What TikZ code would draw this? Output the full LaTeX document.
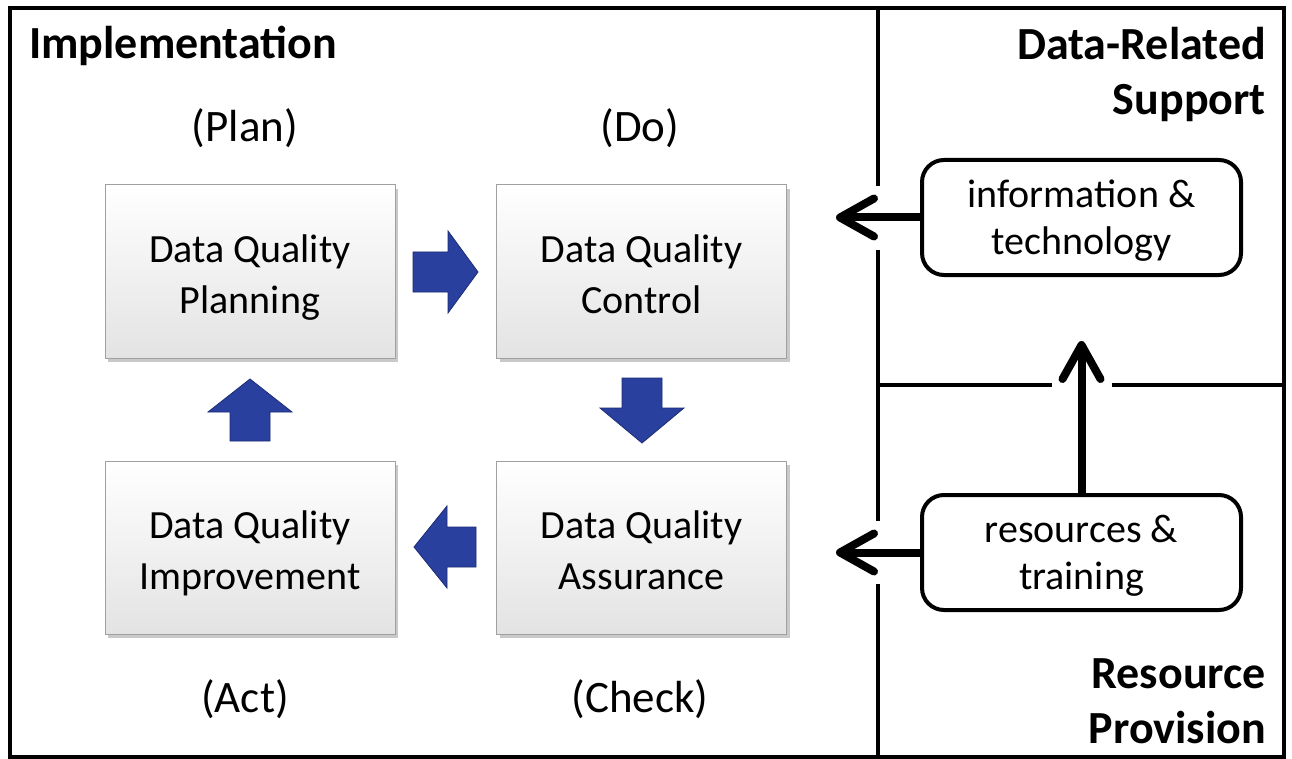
\documentclass[tikz,border=0pt]{standalone}
\usepackage{fontspec}
\setmainfont{Carlito}
\usetikzlibrary{shadows,arrows.meta}
\definecolor{bluefill}{RGB}{42,64,158}
\definecolor{blueedge}{RGB}{28,44,118}
\definecolor{boxedge}{RGB}{160,160,160}
\newcommand{\qstrut}{\rule[-9pt]{0pt}{50pt}}
\newcommand{\rstrut}{\rule[-9pt]{0pt}{45pt}}
\tikzset{
  qbox/.style={draw=boxedge, line width=1pt, top color=white, bottom color=gray!22,
    minimum width=290pt, minimum height=173pt, align=center,
    font=\fontsize{40}{49}\selectfont,
    drop shadow={shadow xshift=3pt, shadow yshift=-4pt, fill=gray!70, opacity=0.6}},
  rbox/.style={draw=black, line width=4pt, rounded corners=22pt, fill=white,
    minimum width=319pt, minimum height=115pt, align=center,
    font=\fontsize{40}{47}\selectfont},
  blockarrow/.style={fill=bluefill, draw=blueedge, line width=0.8pt, line join=miter},
  frameline/.style={line width=4pt, line cap=rect},
  heading/.style={font=\fontsize{46}{55}\selectfont\bfseries, inner sep=0pt},
  phase/.style={font=\fontsize{45}{50}\selectfont, inner sep=0pt},
  bigarrow/.style={line width=8pt, -{Straight Barb[length=34pt, width=38pt, round, line width=8pt]}}
}
\begin{document}
\begin{tikzpicture}[x=1pt, y=-1pt]
\useasboundingbox (0,0) rectangle (1292,759);
\fill[white] (0,0) rectangle (1292,759);

% frame
\draw[frameline] (10,8) -- (1284,8) -- (1284,757) -- (10,757) -- cycle;
\draw[frameline, line cap=butt] (878,8) -- (878,186);
\draw[frameline, line cap=butt] (878,250) -- (878,521);
\draw[frameline, line cap=butt] (878,584) -- (878,757);
\draw[frameline, line cap=butt] (878,385) -- (1052,385);
\draw[frameline, line cap=butt] (1112,385) -- (1284,385);

% headings
\node[heading, anchor=base west] (impl) at (29,59) {Implementation};
\node[heading, anchor=north east, align=right] (drs) at (1266,27) {Data-Related\\Support};
\node[heading, anchor=south east, align=right] (rp) at (1266,744) {Resource\\Provision};

% phase labels
\node[phase] (plan) at (245,128) {(Plan)};
\node[phase] (do) at (640,128) {(Do)};
\node[phase] (act) at (245,699) {(Act)};
\node[phase] (check) at (640,699) {(Check)};

% quality boxes
\node[qbox] (dqp) at (250,271.5) {\qstrut Data Quality\\Planning\qstrut};
\node[qbox] (dqc) at (641.5,271.5) {\qstrut Data Quality\\Control\qstrut};
\node[qbox] (dqi) at (250,547.5) {\qstrut Data Quality\\Improvement\qstrut};
\node[qbox] (dqa) at (641.5,547.5) {\qstrut Data Quality\\Assurance\qstrut};

% block arrows
\filldraw[blockarrow] (413,252) -- (448,252) -- (448,231) -- (478,272) -- (448,313) -- (448,292) -- (413,292) -- cycle;
\filldraw[blockarrow] (622,378) -- (662,378) -- (662,408) -- (684,408) -- (642,443) -- (600,408) -- (622,408) -- cycle;
\filldraw[blockarrow] (270,441) -- (230,441) -- (230,412) -- (208,412) -- (250,379) -- (292,412) -- (270,412) -- cycle;
\filldraw[blockarrow] (476,527) -- (447,527) -- (447,506) -- (414,547) -- (447,588) -- (447,567) -- (476,567) -- cycle;

% support boxes
\node[rbox] (info) at (1081.5,217.5) {\rstrut information \&\\technology\rstrut};
\node[rbox] (res) at (1081.5,552.5) {\rstrut resources \&\\training\rstrut};

\coordinate (infoend) at (836,217.5);
\coordinate (resend) at (836,552.5);
\coordinate (upend) at (1081.5,341);

\draw[bigarrow] (info.west) -- (infoend);
\draw[bigarrow] (res.west) -- (resend);
\draw[bigarrow] (res.north) -- (upend);
\end{tikzpicture}
\end{document}
